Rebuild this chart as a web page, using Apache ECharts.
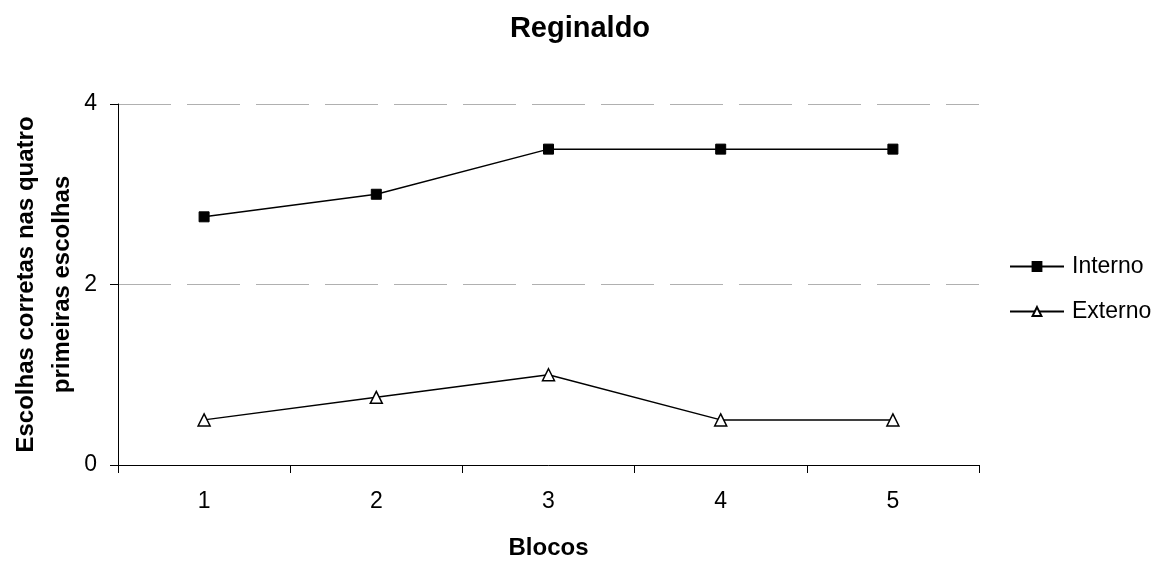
<!DOCTYPE html>
<html>
<head>
<meta charset="utf-8">
<script src="https://cdn.jsdelivr.net/npm/echarts@6/dist/echarts.min.js"></script>
<style>
  html, body { margin: 0; padding: 0; background: #fff; }
  #chart { width: 1166px; height: 565px; }
</style>
</head>
<body>
<div id="chart"></div>
<script>
// Blocks on the x axis and the two series plotted against them
const blocos = ['1', '2', '3', '4', '5'];
const interno = [2.75, 3.0, 3.5, 3.5, 3.5];
const externo = [0.5, 0.75, 1.0, 0.5, 0.5];
const yTicks = [0, 2, 4];

const FONT = '"Liberation Sans", Arial, sans-serif';

const chart = echarts.init(document.getElementById('chart'), null, { renderer: 'canvas' });

chart.setOption({
  animation: false,
  backgroundColor: '#fff',
  title: {
    text: 'Reginaldo',
    left: 575,
    textAlign: 'center',
    top: 9,
    textStyle: { fontFamily: FONT, fontSize: 29, fontWeight: 'bold', color: '#000' }
  },
  legend: {
    orient: 'vertical',
    left: 1004,
    top: 250,
    itemWidth: 54,
    itemHeight: 11,
    itemGap: 22,
    textStyle: { fontFamily: FONT, fontSize: 23, color: '#000', padding: [0, 0, 0, 3] },
    data: ['Interno', 'Externo']
  },
  grid: { left: 118, right: 187, top: 104, bottom: 100, containLabel: false, outerBoundsMode: 'none' },
  xAxis: {
    type: 'category',
    data: blocos,
    boundaryGap: true,
    name: 'Blocos',
    nameLocation: 'middle',
    nameGap: 71,
    nameMoveOverlap: false,
    nameTextStyle: { fontFamily: FONT, fontSize: 24, fontWeight: 'bold', color: '#000' },
    axisLine: { lineStyle: { color: '#000', width: 1 } },
    axisTick: { show: true, length: 8, lineStyle: { color: '#000' } },
    axisLabel: { fontFamily: FONT, fontSize: 23, color: '#000', margin: 25 }
  },
  yAxis: {
    type: 'value',
    min: 0,
    max: 4,
    interval: 2,
    name: 'Escolhas corretas nas quatro\nprimeiras escolhas',
    nameLocation: 'middle',
    nameGap: 38,
    nameMoveOverlap: false,
    nameTextStyle: { fontFamily: FONT, fontSize: 24, fontWeight: 'bold', color: '#000', lineHeight: 36 },
    axisLine: { show: true, lineStyle: { color: '#000', width: 1 } },
    axisTick: { show: true, length: 8, lineStyle: { color: '#000' } },
    axisLabel: {
      fontFamily: FONT, fontSize: 23, color: '#000', margin: 21,
      formatter: v => yTicks.includes(v) ? String(v) : ''
    },
    splitLine: { show: true, lineStyle: { color: '#b0b0b0', width: 1, type: [53, 16] } }
  },
  series: [
    {
      name: 'Interno',
      type: 'line',
      data: interno,
      symbol: 'rect',
      symbolSize: 10,
      showAllSymbol: true,
      lineStyle: { color: '#000', width: 1.5 },
      itemStyle: { color: '#000', borderColor: '#000', borderWidth: 1 }
    },
    {
      name: 'Externo',
      type: 'line',
      data: externo,
      symbol: 'triangle',
      symbolSize: 12,
      showAllSymbol: true,
      lineStyle: { color: '#000', width: 1.5 },
      itemStyle: { color: '#fff', borderColor: '#000', borderWidth: 1.5 }
    }
  ]
});
</script>
</body>
</html>
